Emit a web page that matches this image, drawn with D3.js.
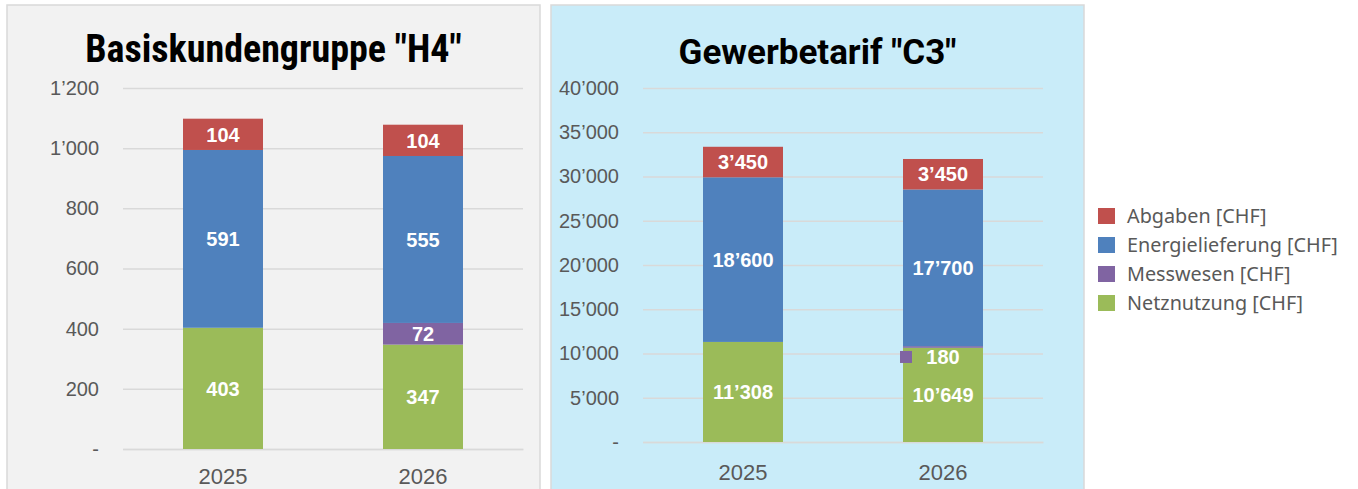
<!DOCTYPE html>
<html>
<head>
<meta charset="utf-8">
<script src="https://cdn.jsdelivr.net/npm/d3@7"></script>
<style>
  body { margin: 0; background: #fff; }
  text { font-family: "Liberation Sans", Arial, sans-serif; }
</style>
</head>
<body>
<div id="mount"></div>
<script>
var years = ['2025', '2026'];
var seriesNames = ['Netznutzung [CHF]', 'Messwesen [CHF]', 'Energielieferung [CHF]', 'Abgaben [CHF]'];
var seriesColors = ['#9bbb59', '#8064a2', '#4f81bd', '#c0504d'];
var legendOrder = ['Abgaben [CHF]', 'Energielieferung [CHF]', 'Messwesen [CHF]', 'Netznutzung [CHF]'];

var h4Netz = [403, 347];
var h4Mess = [0, 72];
var h4Energie = [591, 555];
var h4Abgaben = [104, 104];
var h4Ticks = [0, 200, 400, 600, 800, 1000, 1200];

var c3Netz = [11308, 10649];
var c3Mess = [0, 180];
var c3Energie = [18600, 17700];
var c3Abgaben = [3450, 3450];
var c3Ticks = [0, 5000, 10000, 15000, 20000, 25000, 30000, 35000, 40000];

var locale = d3.formatLocale({ decimal: '.', thousands: '\u2019', grouping: [3], currency: ['', ''] });
var fmt = locale.format(',');
function tickFmt (v) { return v === 0 ? '-' : fmt(v); }

var color = d3.scaleOrdinal().domain(seriesNames).range(seriesColors);

var svg = d3.select('#mount').append('svg')
  .attr('width', 1358)
  .attr('height', 489);

function buildRows (netz, mess, energie, abgaben) {
  return years.map(function (y, i) {
    var r = { year: y };
    r[seriesNames[0]] = netz[i];
    r[seriesNames[1]] = mess[i];
    r[seriesNames[2]] = energie[i];
    r[seriesNames[3]] = abgaben[i];
    return r;
  });
}

function drawPanel (opt) {
  var g = svg.append('g');

  g.append('rect')
    .attr('x', opt.px).attr('y', 5)
    .attr('width', opt.pw).attr('height', 500)
    .attr('fill', opt.bg)
    .attr('stroke', '#d9d9d9')
    .attr('stroke-width', 1.5);

  g.append('text')
    .attr('x', opt.px + opt.pw / 2)
    .attr('y', opt.titleY)
    .attr('text-anchor', 'middle')
    .style('font-family', opt.titleFont)
    .style('font-size', opt.titleSize + 'px')
    .style('font-weight', 'bold')
    .attr('fill', '#000')
    .text(opt.title);

  var x = d3.scaleBand().domain(years).range([opt.x0, opt.x1]).paddingInner(0.6).paddingOuter(0.3);
  var y = d3.scaleLinear().domain([0, d3.max(opt.ticks)]).range([opt.y0, opt.y1]);

  var yAxis = d3.axisLeft(y).tickValues(opt.ticks).tickFormat(tickFmt)
    .tickSize(-(opt.x1 - opt.x0)).tickPadding(24);
  var ya = g.append('g').attr('transform', 'translate(' + opt.x0 + ',0)').call(yAxis);
  ya.select('.domain').remove();
  ya.selectAll('.tick line').attr('stroke', '#d9d9d9').attr('stroke-width', 1.5);
  ya.selectAll('.tick text').attr('fill', '#595959').style('font-size', '20px');

  var xAxis = d3.axisBottom(x).tickSize(0).tickPadding(opt.xPad);
  var xa = g.append('g').attr('transform', 'translate(0,' + opt.y0 + ')').call(xAxis);
  xa.select('.domain').attr('stroke', '#d9d9d9').attr('stroke-width', 1.5);
  xa.selectAll('.tick text').attr('fill', '#595959').style('font-size', '22px');

  var stack = d3.stack().keys(seriesNames);
  var layers = stack(opt.rows);

  var lg = g.selectAll('.layer').data(layers).enter().append('g')
    .attr('fill', function (d) { return color(d.key); });

  lg.selectAll('rect').data(function (d) { return d; }).enter().append('rect')
    .attr('x', function (d) { return x(d.data.year); })
    .attr('width', x.bandwidth())
    .attr('y', function (d) { return y(d[1]); })
    .attr('height', function (d) { return y(d[0]) - y(d[1]); });

  layers.forEach(function (layer) {
    layer.forEach(function (d) {
      var v = d[1] - d[0];
      if (v <= 0) return;
      var cy = (y(d[0]) + y(d[1])) / 2;
      var small = (y(d[0]) - y(d[1])) < 14;
      var cx = x(d.data.year) + x.bandwidth() / 2;
      if (small) {
        cy += 10;
        g.append('rect')
          .attr('x', x(d.data.year) - 3).attr('y', cy - 6)
          .attr('width', 12).attr('height', 12)
          .attr('fill', color(layer.key));
      }
      g.append('text')
        .attr('x', cx).attr('y', cy)
        .attr('dy', '0.36em')
        .attr('text-anchor', 'middle')
        .attr('fill', '#fff')
        .style('font-size', '20px')
        .style('font-weight', 'bold')
        .text(fmt(v));
    });
  });
}

drawPanel({
  px: 7, pw: 533, bg: '#f2f2f2',
  title: 'Basiskundengruppe "H4"', titleY: 62, titleSize: 38,
  titleFont: '"Liberation Sans Narrow", "Roboto Condensed", "Liberation Sans", sans-serif',
  x0: 123, x1: 523, y0: 449, y1: 88, xPad: 19,
  ticks: h4Ticks,
  rows: buildRows(h4Netz, h4Mess, h4Energie, h4Abgaben)
});

drawPanel({
  px: 551, pw: 533, bg: '#c9ecf9',
  title: 'Gewerbetarif "C3"', titleY: 64, titleSize: 35,
  titleFont: 'Roboto, "Liberation Sans", sans-serif',
  x0: 643, x1: 1043, y0: 442, y1: 88, xPad: 22,
  ticks: c3Ticks,
  rows: buildRows(c3Netz, c3Mess, c3Energie, c3Abgaben)
});

var legend = svg.append('g').attr('transform', 'translate(1098,216)');
var items = legend.selectAll('g').data(legendOrder).enter().append('g')
  .attr('transform', function (d, i) { return 'translate(0,' + (i * 29) + ')'; });
items.append('rect')
  .attr('x', 0).attr('y', -8)
  .attr('width', 17).attr('height', 16)
  .attr('fill', function (d) { return color(d); });
items.append('text')
  .attr('x', 29).attr('y', 0)
  .attr('dy', '0.35em')
  .attr('fill', '#595959')
  .style('font-family', '"Noto Sans", sans-serif')
  .style('font-size', '19.8px')
  .text(function (d) { return d; });
</script>
</body>
</html>
